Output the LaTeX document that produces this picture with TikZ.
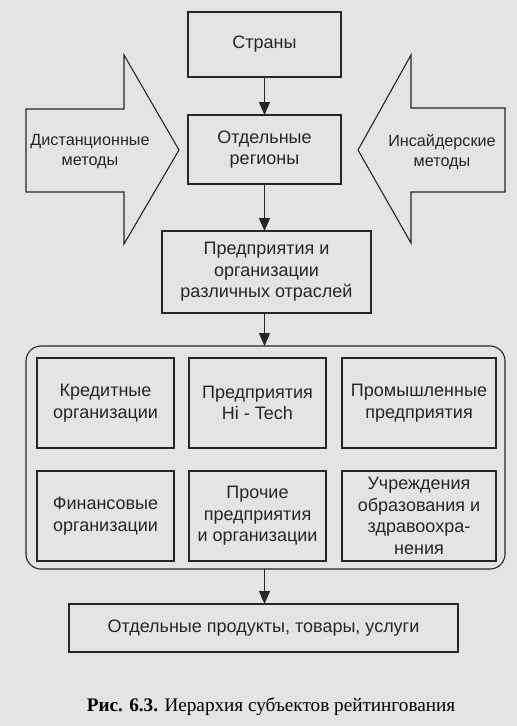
\documentclass[tikz,border=0pt]{standalone}
\usepackage{fontspec}
\setmainfont{Liberation Serif}
\newfontfamily\diagfont{Liberation Sans}
\usetikzlibrary{arrows.meta}
\definecolor{pagebg}{HTML}{E4E4E4}
\definecolor{ink}{HTML}{262626}
\begin{document}
\begin{tikzpicture}[x=1pt,y=-1pt,
  every node/.style={inner sep=0pt,outer sep=0pt},
  boxst/.style={draw=ink,line width=1.1pt,align=center,text=ink,
    font=\diagfont\fontsize{18}{21.5}\selectfont},
  txtst/.style={align=center,text=ink,font=\diagfont\fontsize{16.2}{20}\selectfont},
  arr/.style={draw=ink,line width=1.1pt,-{Triangle[width=11pt,length=13pt]}},
  bigarrow/.style={draw=ink,line width=1.1pt,line join=miter}]
\fill[pagebg] (0,0) rectangle (517,726);
\useasboundingbox (0,0) rectangle (517,726);
% big side arrows
\draw[bigarrow] (26,109) -- (124,109) -- (124,55) -- (179,150) -- (124,244) -- (124,192) -- (26,192) -- cycle;
\draw[bigarrow] (505,108) -- (411,108) -- (411,55) -- (358,150) -- (411,243) -- (411,192) -- (505,192) -- cycle;
\node[txtst] (dist) at (90,152) {Дистанционные\\методы};
\node[txtst] (ins) at (442,152) {Инсайдерские\\методы};
% main chain
\node[boxst,minimum width=153pt,minimum height=65pt] (strany) at (264.5,44.5) {Страны};
\node[boxst,minimum width=153pt,minimum height=69pt] (regiony) at (264.5,149.5) {Отдельные\\регионы};
\node[boxst,minimum width=209pt,minimum height=82pt] (predpr) at (266.5,272) {Предприятия и\\организации\\различных отраслей};
\node[draw=ink,line width=1.1pt,rounded corners=15pt,minimum width=479pt,minimum height=223pt] (cont) at (265.5,457.5) {};
\node[boxst,minimum width=137pt,minimum height=90pt] (kred) at (105.5,403) {Кредитные\\организации};
\node[boxst,minimum width=137pt,minimum height=90pt] (hitech) at (257.5,403) {Предприятия\\Hi - Tech};
\node[boxst,minimum width=154pt,minimum height=90pt] (prom) at (419,403) {Промышленные\\предприятия};
\node[boxst,minimum width=137pt,minimum height=90pt] (fin) at (105.5,516) {Финансовые\\организации};
\node[boxst,minimum width=137pt,minimum height=90pt] (proch) at (257.5,516) {Прочие\\предприятия\\и организации};
\node[boxst,minimum width=154pt,minimum height=90pt] (uchr) at (419,516) {Учреждения\\образования и\\здравоохра-\\нения};
\node[boxst,minimum width=389pt,minimum height=48pt] (prod) at (263.5,628) {Отдельные продукты, товары, услуги};
% connectors
\draw[arr] (strany.south) -- (regiony.north);
\draw[arr] (regiony.south) -- (regiony.south |- predpr.north);
\draw[arr] (predpr.south -| regiony.south) -- (regiony.south |- cont.north);
\draw[arr] (regiony.south |- cont.south) -- (regiony.south |- prod.north);
% caption
\node[text=black,font=\fontsize{19.2}{22}\selectfont] (cap) at (271,707) {\textbf{Рис. 6.3.} Иерархия субъектов рейтингования};
\end{tikzpicture}
\end{document}
